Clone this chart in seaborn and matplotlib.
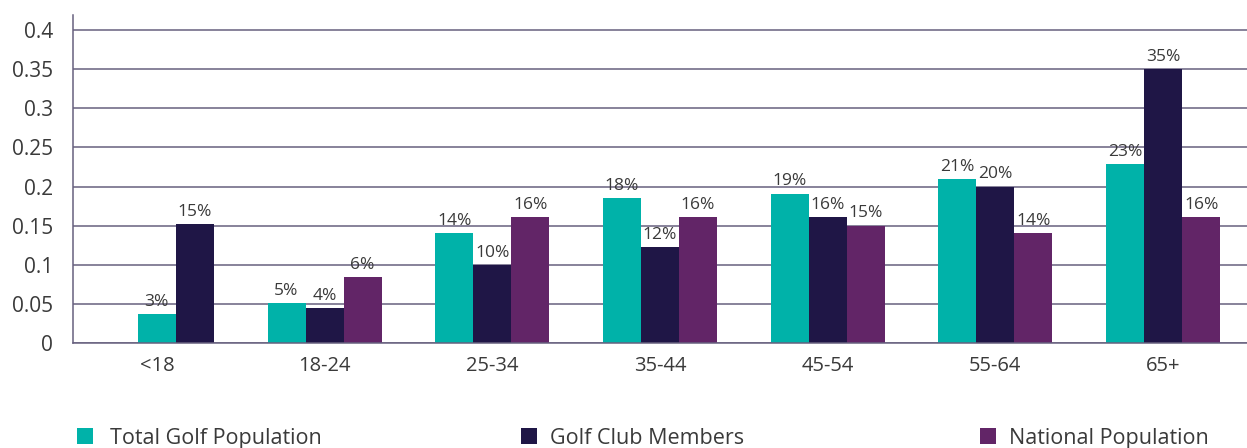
import numpy as np
import pandas as pd
import matplotlib
matplotlib.use("Agg")
import matplotlib.pyplot as plt
from matplotlib.patches import Patch
import seaborn as sns

# data
age_groups = ["<18", "18-24", "25-34", "35-44", "45-54", "55-64", "65+"]
total_golf = [0.037, 0.051, 0.141, 0.185, 0.191, 0.210, 0.229]
club_members = [0.152, 0.045, 0.100, 0.123, 0.161, 0.200, 0.350]
national_pop = [np.nan, 0.084, 0.161, 0.161, 0.150, 0.141, 0.161]

total_labels = ["3%", "5%", "14%", "18%", "19%", "21%", "23%"]
club_labels = ["15%", "4%", "10%", "12%", "16%", "20%", "35%"]
national_labels = [None, "6%", "16%", "16%", "15%", "14%", "16%"]

series_names = ["Total Golf Population", "Golf Club Members", "National Population"]
series_values = [total_golf, club_members, national_pop]
series_labels = [total_labels, club_labels, national_labels]
colors = ["#00B2A9", "#1F1646", "#622567"]

grid_color = "#67617f"
text_color = "#3a3a3a"


def build_frame():
    rows = []
    for name, vals in zip(series_names, series_values):
        for grp, v in zip(age_groups, vals):
            rows.append({"age": grp, "series": name, "share": v})
    return pd.DataFrame(rows)


def main():
    sns.set_style("white")
    plt.rcParams["font.family"] = ["Open Sans", "DejaVu Sans"]
    plt.rcParams["text.color"] = text_color

    df = build_frame()

    fig = plt.figure(figsize=(12.47, 4.48), dpi=100)
    ax = fig.add_axes([73 / 1247, 1 - 343 / 448, 1 - 73 / 1247, 328 / 448])

    sns.barplot(data=df, x="age", y="share", hue="series", order=age_groups,
                hue_order=series_names, palette=dict(zip(series_names, colors)),
                saturation=1, width=0.68, linewidth=0, errorbar=None, ax=ax)
    if ax.legend_ is not None:
        ax.legend_.remove()

    # in the original the <18 bars sit one slot to the right (no national bar there)
    for p in ax.patches:
        if p.get_x() + p.get_width() / 2 < 0.5:
            p.set_x(p.get_x() + p.get_width())

    # value labels
    for container, vals, labs in zip(ax.containers, series_values, series_labels):
        present = [l for v, l in zip(vals, labs) if not pd.isna(v)]
        ax.bar_label(container, labels=present, padding=3,
                     fontsize=12.5, color=text_color)

    ax.set_ylim(0, 0.4192)
    yt = [round(t, 2) for t in np.arange(0, 0.401, 0.05)]
    ax.set_yticks(yt)
    ax.set_yticklabels([f"{t:g}" for t in yt])
    ax.set_xlim(-0.5, len(age_groups) - 0.5)
    ax.set_xticks(np.arange(-0.5, len(age_groups), 1), minor=True)

    ax.yaxis.grid(True, color=grid_color, linewidth=1.1)
    ax.set_axisbelow(True)
    for side in ["top", "right"]:
        ax.spines[side].set_visible(False)
    for side in ["left", "bottom"]:
        ax.spines[side].set_color(grid_color)
        ax.spines[side].set_linewidth(1.1)

    ax.tick_params(axis="y", length=6.5, width=1.1, color=grid_color, pad=8,
                   labelsize=15, labelcolor=text_color)
    ax.tick_params(axis="x", which="major", length=0, pad=9,
                   labelsize=14.5, labelcolor=text_color)
    ax.tick_params(axis="x", which="minor", length=6, width=1.1, color=grid_color)
    ax.set_xlabel("")
    ax.set_ylabel("")

    # legend entries placed individually along the bottom edge
    legend_x = [77 / 1247, 521 / 1247, 980 / 1247]
    text_pads = [0.8, 0.6, 0.6]
    for name, col, x, tp in zip(series_names, colors, legend_x, text_pads):
        leg = fig.legend(handles=[Patch(facecolor=col, edgecolor="none")], labels=[name],
                         loc="center left", bbox_to_anchor=(x, 0.022), frameon=False,
                         fontsize=15.5, handlelength=0.75, handleheight=0.75,
                         handletextpad=tp, borderpad=0, borderaxespad=0)
        for t in leg.get_texts():
            t.set_color(text_color)

    fig.savefig("out.png", dpi=100)


if __name__ == "__main__":
    main()
